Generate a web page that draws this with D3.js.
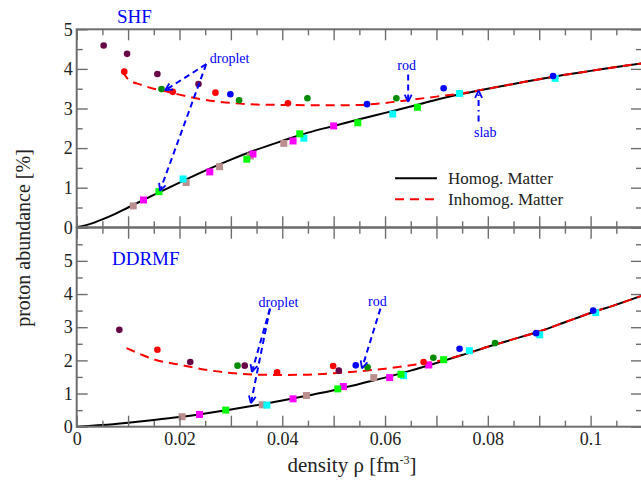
<!DOCTYPE html>
<html>
<head>
<meta charset="utf-8">
<script src="https://cdn.jsdelivr.net/npm/d3@7"></script>
<style>
html,body{margin:0;padding:0;background:#fff;}
svg text{font-family:"Liberation Serif","Times New Roman",serif;}
</style>
</head>
<body>
<svg id="chart" width="641" height="482"></svg>
<script>
// ---------------- DATA ----------------
const xTickLabels = ["0","0.02","0.04","0.06","0.08","0.1"];
const xLabelValues = [0,0.02,0.04,0.06,0.08,0.1];
const yTickLabels = ["0","1","2","3","4","5"];

// SHF panel curves  [density, proton abundance %]
const shfHomog = [[0,0],[0.0025,0.08],[0.005,0.2],[0.0075,0.34],[0.01,0.5],[0.015,0.82],[0.02,1.13],[0.025,1.43],[0.03,1.71],[0.035,1.96],[0.04,2.18],[0.045,2.39],[0.05,2.56],[0.055,2.73],[0.06,2.89],[0.065,3.05],[0.07,3.22],[0.075,3.37],[0.08,3.5],[0.085,3.62],[0.09,3.74],[0.095,3.85],[0.1,3.95],[0.105,4.05],[0.11,4.14]];
const shfInhomog = [[0.009,3.93],[0.0095,3.82],[0.01,3.74],[0.0125,3.6],[0.015,3.5],[0.0175,3.43],[0.02,3.35],[0.025,3.22],[0.03,3.14],[0.035,3.1],[0.04,3.09],[0.05,3.08],[0.055,3.09],[0.06,3.14],[0.065,3.22],[0.07,3.3],[0.075,3.38],[0.08,3.5],[0.085,3.62],[0.09,3.74],[0.095,3.85],[0.1,3.95],[0.105,4.05],[0.11,4.14]];

// SHF panel markers
const shfMaroon = [[0.00525,4.59],[0.0098,4.38],[0.0157,3.87],[0.0237,3.62]];
const shfRed = [[0.00926,3.93],[0.0187,3.42],[0.027,3.4],[0.0411,3.13]];
const shfGreen = [[0.0165,3.49],[0.0316,3.21],[0.0449,3.26],[0.0622,3.26]];
const shfBlue = [[0.0299,3.36],[0.0565,3.11],[0.0714,3.51],[0.0927,3.82]];
const shfBrown = [[0.011,0.54],[0.0213,1.13],[0.0278,1.53],[0.0338,1.8],[0.0403,2.12]];
const shfMagenta = [[0.013,0.69],[0.0259,1.4],[0.0343,1.85],[0.0421,2.18],[0.05,2.56]];
const shfCyan = [[0.0207,1.22],[0.0442,2.25],[0.0615,2.86],[0.0745,3.38],[0.0931,3.76]];
const shfLime = [[0.016,0.9],[0.0331,1.72],[0.0434,2.36],[0.0547,2.64],[0.0663,3.03]];

// DDRMF panel curves
const ddHomog = [[0,0],[0.005,0.05],[0.01,0.12],[0.015,0.2],[0.02,0.29],[0.025,0.4],[0.03,0.52],[0.035,0.65],[0.04,0.79],[0.045,0.94],[0.05,1.1],[0.055,1.29],[0.06,1.48],[0.065,1.69],[0.07,1.92],[0.075,2.16],[0.08,2.41],[0.085,2.64],[0.09,2.87],[0.095,3.15],[0.1,3.43],[0.105,3.68],[0.11,3.95]];
const ddInhomog = [[0.0097,2.37],[0.0125,2.18],[0.015,2.03],[0.02,1.87],[0.025,1.72],[0.03,1.62],[0.035,1.57],[0.04,1.56],[0.045,1.57],[0.05,1.61],[0.055,1.67],[0.06,1.75],[0.065,1.85],[0.07,1.97],[0.075,2.16],[0.08,2.41],[0.085,2.64],[0.09,2.87],[0.095,3.15],[0.1,3.43],[0.105,3.68],[0.11,3.95]];

// DDRMF panel markers
const ddMaroon = [[0.0083,2.92],[0.0221,1.95],[0.0327,1.84],[0.051,1.69]];
const ddRed = [[0.0157,2.32],[0.039,1.64],[0.0499,1.83],[0.0675,1.95]];
const ddGreen = [[0.0313,1.84],[0.0566,1.79],[0.0694,2.08],[0.0814,2.52]];
const ddBlue = [[0.0543,1.85],[0.0745,2.35],[0.0894,2.82],[0.1005,3.5]];
const ddBrown = [[0.0205,0.3],[0.0361,0.66],[0.0447,0.94],[0.0578,1.48]];
const ddMagenta = [[0.0239,0.37],[0.0421,0.84],[0.0519,1.21],[0.0609,1.48],[0.0685,1.86]];
const ddCyan = [[0.037,0.65],[0.0636,1.54],[0.0764,2.29],[0.0901,2.77],[0.101,3.44]];
const ddLime = [[0.029,0.5],[0.0508,1.14],[0.0631,1.58],[0.0714,2.02]];

// annotations
const shfNotes = [
  {text:"droplet", at:[0.0259,4.14], anchor:"start", arrows:[[0.0252,4.12,0.0172,3.46],[0.0252,4.12,0.0162,0.92]], dash:"6,4"},
  {text:"rod", at:[0.0642,3.96], anchor:"middle", arrows:[[0.0645,3.86,0.0645,3.17]], dash:"6,4"},
  {text:"slab", at:[0.0795,2.28], anchor:"middle", arrows:[[0.0782,2.67,0.0782,3.45]], dash:"6,4,1.5,4"}
];
const ddNotes = [
  {text:"droplet", at:[0.0354,3.6], anchor:"start", arrows:[[0.0376,3.56,0.0341,1.65],[0.0376,3.56,0.0339,0.71]], dash:"6,4"},
  {text:"rod", at:[0.0585,3.65], anchor:"middle", arrows:[[0.0591,3.56,0.0555,1.76]], dash:"6,4"}
];

const legendItems = [
  {label:"Homog. Matter", color:"#000", dash:null},
  {label:"Inhomog. Matter", color:"#ff0000", dash:"9,6"}
];

// ---------------- DRAWING ----------------
const svg = d3.select("#chart");
const L = 76.7, R = 642;
const x = d3.scaleLinear().domain([0,0.11]).range([L,R]);
const yTop = d3.scaleLinear().domain([0,5]).range([227.3,29.3]);
const yBot = d3.scaleLinear().domain([0,6]).range([426.7,227.7]);

const axisColor = "#6e6e6e";
const colors = {maroon:"#670748", red:"#ff0000", green:"#008b00", blue:"#0000ff",
                brown:"#bc8f8f", magenta:"#ff00ff", cyan:"#00ffff", lime:"#00ff00"};

function drawFrame(y, yMax, labelBottom, yLabelMax){
  const g = svg.append("g");
  const minorX = d3.range(0, 0.1101, 0.005).filter(v => Math.abs(Math.round(v/0.01)*0.01 - v) > 1e-6);
  const majorX = d3.range(0, 0.1101, 0.01);
  const minorY = d3.range(0.5, yMax, 1);
  const majorY = d3.range(0, yMax+0.001, 1);
  const y0 = y(0), y1 = y(yMax);
  const addAxis = (axis, transform) => {
    const a = g.append("g").attr("transform", transform).call(axis);
    a.select(".domain").remove();
    a.attr("font-family", null);
    a.selectAll("line").attr("stroke", axisColor).attr("stroke-width", 1.4);
    a.selectAll("text").attr("fill","#222").style("font-size","18px")
      .style("font-family","'Liberation Serif',serif");
    return a;
  };
  addAxis(d3.axisBottom(x).tickValues(minorX).tickSize(-6).tickFormat(""), `translate(0,${y0})`);
  addAxis(d3.axisBottom(x).tickValues(majorX).tickSize(-11).tickPadding(6)
      .tickFormat(v => {
        if (!labelBottom) return "";
        const i = xLabelValues.findIndex(t => Math.abs(t - v) < 1e-9);
        return i >= 0 ? xTickLabels[i] : "";
      }), `translate(0,${y0})`);
  addAxis(d3.axisTop(x).tickValues(minorX).tickSize(-6).tickFormat(""), `translate(0,${y1})`);
  addAxis(d3.axisTop(x).tickValues(majorX).tickSize(-11).tickFormat(""), `translate(0,${y1})`);
  addAxis(d3.axisLeft(y).tickValues(minorY).tickSize(-6).tickFormat(""), `translate(${L},0)`);
  addAxis(d3.axisLeft(y).tickValues(majorY).tickSize(-11).tickPadding(4)
      .tickFormat(v => v <= yLabelMax ? yTickLabels[v] : ""), `translate(${L},0)`);
  addAxis(d3.axisRight(y).tickValues(minorY).tickSize(-6).tickFormat(""), `translate(${R},0)`);
  addAxis(d3.axisRight(y).tickValues(majorY).tickSize(-11).tickFormat(""), `translate(${R},0)`);
  g.append("rect").attr("x", L).attr("y", y1).attr("width", R-L).attr("height", y0-y1)
    .attr("fill","none").attr("stroke", axisColor).attr("stroke-width", 2);
}

function drawPanel(y, homog, inhomog, circles, squares, notes){
  const g = svg.append("g");
  const line = d3.line().x(d => x(d[0])).y(d => y(d[1])).curve(d3.curveMonotoneX);
  g.append("path").attr("d", line(homog)).attr("fill","none").attr("stroke","#000").attr("stroke-width",2);
  g.append("path").attr("d", line(inhomog)).attr("fill","none").attr("stroke","#ff0000")
    .attr("stroke-width",2).attr("stroke-dasharray","9,6");
  squares.forEach(([data,col]) => {
    g.selectAll(null).data(data).enter().append("rect")
      .attr("x", d => x(d[0]) - 3.5).attr("y", d => y(d[1]) - 3.5)
      .attr("width",7).attr("height",7).attr("fill", colors[col]);
  });
  circles.forEach(([data,col]) => {
    g.selectAll(null).data(data).enter().append("circle")
      .attr("cx", d => x(d[0])).attr("cy", d => y(d[1])).attr("r",3.3).attr("fill", colors[col]);
  });
  notes.forEach(n => {
    g.append("text").attr("x", x(n.at[0])).attr("y", y(n.at[1])).attr("text-anchor", n.anchor)
      .attr("fill","#0000ff").style("font-size","14px").text(n.text);
    n.arrows.forEach(a => {
      const x1 = x(a[0]), y1 = y(a[1]), x2 = x(a[2]), y2 = y(a[3]);
      g.append("line").attr("x1",x1).attr("y1",y1).attr("x2",x2).attr("y2",y2)
        .attr("stroke","#0000ff").attr("stroke-width",2).attr("stroke-dasharray", n.dash);
      const ang = Math.atan2(y2-y1, x2-x1), len = 8, spread = 0.45;
      [ang + Math.PI - spread, ang + Math.PI + spread].forEach(t => {
        g.append("line").attr("x1",x2).attr("y1",y2)
          .attr("x2", x2 + len*Math.cos(t)).attr("y2", y2 + len*Math.sin(t))
          .attr("stroke","#0000ff").attr("stroke-width",1.8);
      });
    });
  });
}

drawPanel(yTop, shfHomog, shfInhomog,
  [[shfMaroon,"maroon"],[shfRed,"red"],[shfGreen,"green"],[shfBlue,"blue"]],
  [[shfBrown,"brown"],[shfMagenta,"magenta"],[shfCyan,"cyan"],[shfLime,"lime"]], shfNotes);
drawPanel(yBot, ddHomog, ddInhomog,
  [[ddMaroon,"maroon"],[ddRed,"red"],[ddGreen,"green"],[ddBlue,"blue"]],
  [[ddBrown,"brown"],[ddMagenta,"magenta"],[ddCyan,"cyan"],[ddLime,"lime"]], ddNotes);

drawFrame(yTop, 5, false, 5);
drawFrame(yBot, 6, true, 5);

svg.append("text").attr("x",117).attr("y",23).attr("fill","#0000ff").style("font-size","19px").text("SHF");
svg.append("text").attr("x",112).attr("y",265).attr("fill","#0000ff").style("font-size","19px").text("DDRMF");

const lg = svg.append("g");
legendItems.forEach((it,i) => {
  const yy = 178.3 + i*21;
  lg.append("line").attr("x1",395).attr("x2",437).attr("y1",yy).attr("y2",yy)
    .attr("stroke",it.color).attr("stroke-width",2).attr("stroke-dasharray",it.dash);
  lg.append("text").attr("x",448).attr("y",yy+6).attr("fill","#222").style("font-size","17px").text(it.label);
});

svg.append("text").attr("transform","translate(30,238) rotate(-90)").attr("text-anchor","middle")
  .attr("fill","#222").style("font-size","20px").text("proton abundance [%]");
const xt = svg.append("text").attr("x",352).attr("y",472).attr("text-anchor","middle")
  .attr("fill","#222").style("font-size","21px");
xt.append("tspan").text("density ρ [fm");
xt.append("tspan").attr("dy",-8).style("font-size","12px").text("-3");
xt.append("tspan").attr("dy",8).text("]");
</script>
</body>
</html>
